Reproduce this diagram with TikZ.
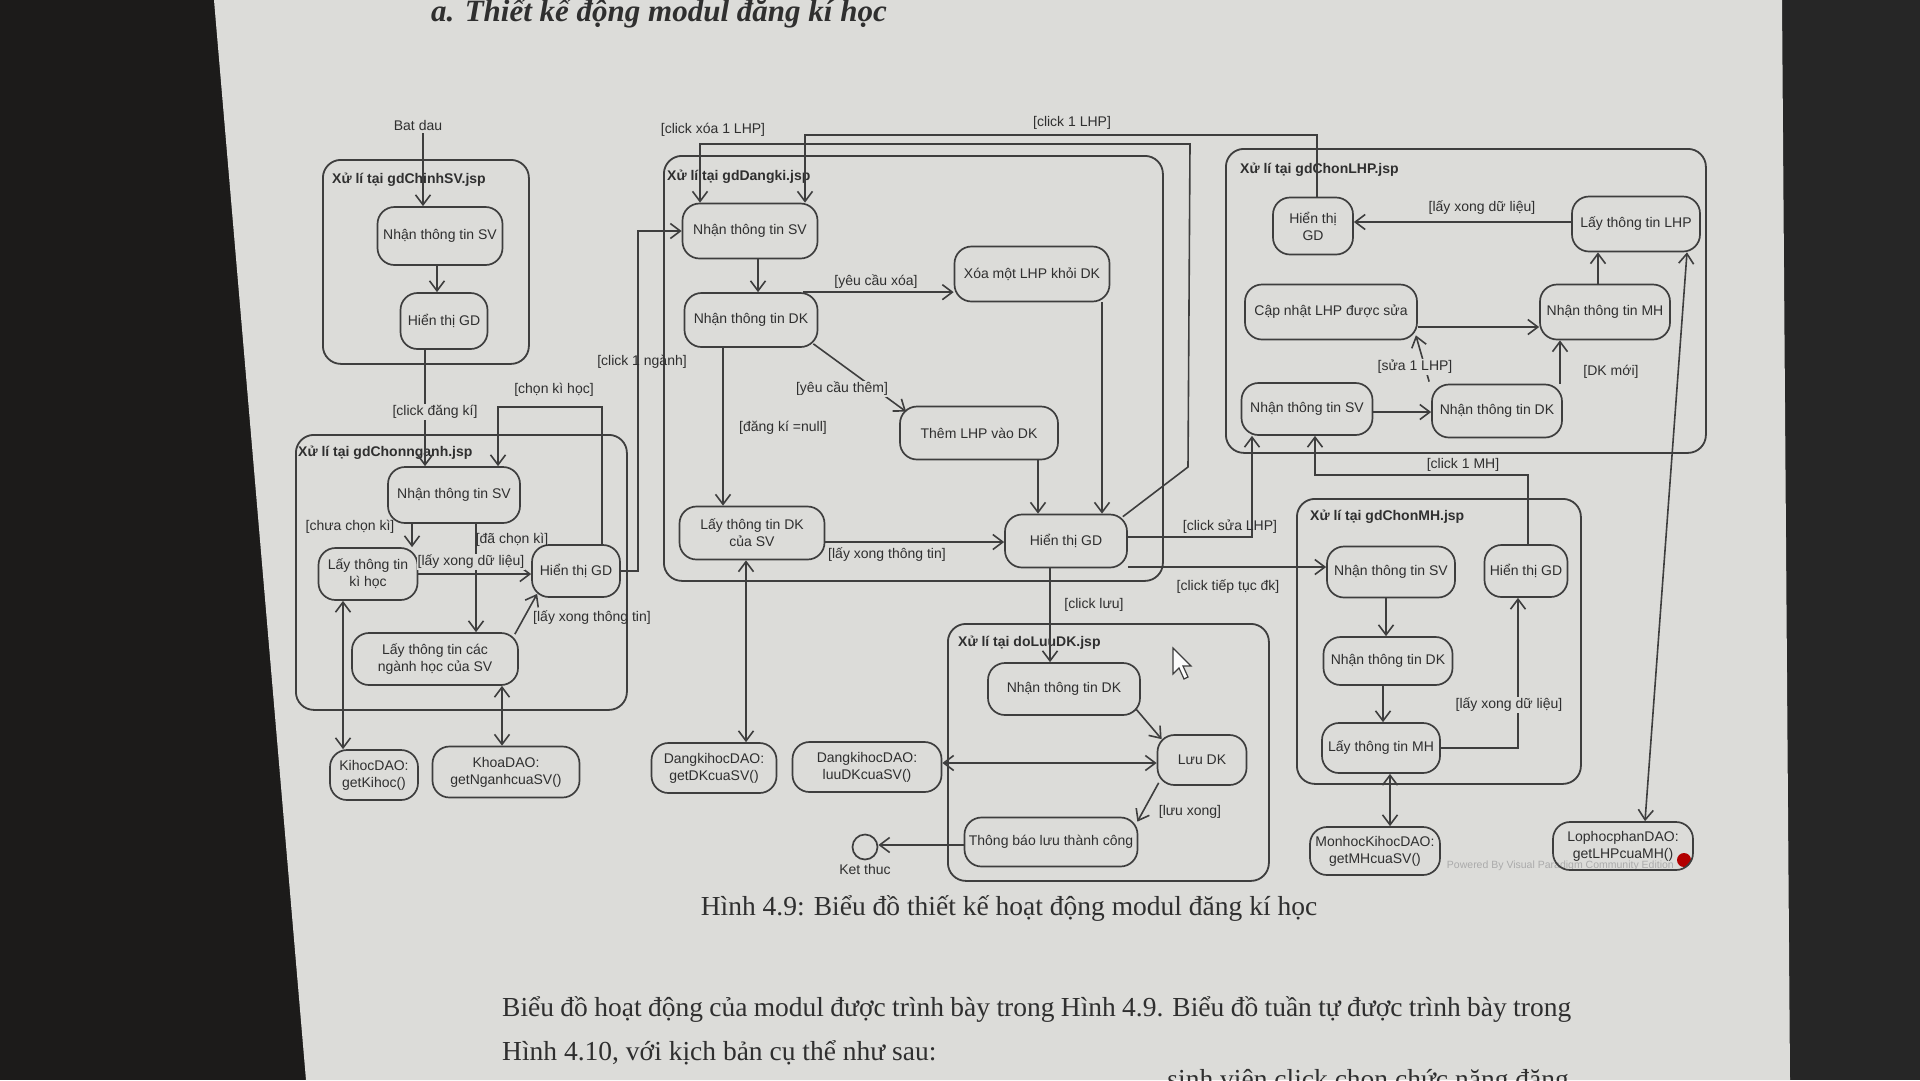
\documentclass[tikz,border=0pt]{standalone}
\usepackage{fontspec}
\setmainfont{Liberation Serif}
\newfontfamily\dgsans{Liberation Sans}
\usetikzlibrary{arrows.meta,calc}
\definecolor{pagec}{HTML}{DCDCD9}
\definecolor{darkc}{HTML}{1C1B1A}
\definecolor{darkr}{HTML}{262626}
\definecolor{linec}{HTML}{3E3E3E}
\definecolor{textc}{HTML}{2F2F2F}
\newcommand{\dgf}{\dgsans\fontsize{14}{17}\selectfont}
\newcommand{\dgb}{\dgsans\bfseries\fontsize{14}{17}\selectfont}
\begin{document}
\begin{tikzpicture}[x=1pt,y=-1pt,
  act/.style={draw=linec, line width=1.7pt, rounded corners=17pt, inner sep=0pt, align=center, font=\dgf, text=textc},
  cont/.style={draw=linec, line width=1.8pt, rounded corners=18pt, inner sep=0pt, anchor=north west},
  clab/.style={font=\dgb, text=textc, anchor=west, inner sep=0pt},
  glab/.style={font=\dgf, text=textc, inner sep=1pt},
  glabf/.style={glab, fill=pagec},
  flow/.style={draw=linec, line width=1.6pt, -{Straight Barb[length=10pt,width=15pt,line width=1.6pt]}},
  flowb/.style={draw=linec, line width=1.6pt, {Straight Barb[length=10pt,width=15pt,line width=1.6pt]}-{Straight Barb[length=10pt,width=15pt,line width=1.6pt]}},
  ptext/.style={anchor=base west, inner sep=0pt, font=\fontsize{27.5}{33}\selectfont, text=textc}
]
\useasboundingbox (0,0) rectangle (1920,1080);
\fill[darkc] (0,0) rectangle (1920,1080);
\fill[darkr] (1782,0) rectangle (1920,1080);
\fill[pagec] (214,0) -- (1782,0) -- (1790,1080) -- (306,1080) -- cycle;

% page texts
\node[anchor=base west, inner sep=0pt, font=\bfseries\itshape\fontsize{31}{37}\selectfont, text=textc] (title) at (431,21) {a. Thiết kế động modul đăng kí học};
\node[anchor=base, inner sep=0pt, font=\fontsize{27.5}{33}\selectfont, text=textc] (cap) at (1009,915) {Hình 4.9: Biểu đồ thiết kế hoạt động modul đăng kí học};
\node[ptext] (p1) at (502,1016) {\makebox[1069pt][s]{Biểu đồ hoạt động của modul được trình bày trong Hình 4.9. Biểu đồ tuần tự được trình bày trong}};
\node[ptext] (p2) at (502,1060) {Hình 4.10, với kịch bản cụ thể như sau:};
\node[ptext, anchor=base east] (p3) at (1569,1088) {sinh viên click chọn chức năng đăng};

% watermark
\node[anchor=base east, inner sep=0pt, font=\dgsans\fontsize{10.5}{12}\selectfont, text=black!33] (wm) at (1674,868) {Powered By Visual Paradigm Community Edition};
\fill[red!70!black] (1684,860) circle (7);

% containers
\node[cont, minimum width=206, minimum height=204] (CA) at (322,159) {};
\node[cont, minimum width=331, minimum height=275] (CB) at (295,434) {};
\node[cont, minimum width=499, minimum height=425] (CC) at (663,155) {};
\node[cont, minimum width=321, minimum height=257] (CD) at (947,623) {};
\node[cont, minimum width=480, minimum height=304] (CE) at (1225,148) {};
\node[cont, minimum width=284, minimum height=285] (CF) at (1296,498) {};
\node[clab] (la) at (332,180) {Xử lí tại gdChinhSV.jsp};
\node[clab] (lb) at (298,453) {Xử lí tại gdChonnganh.jsp};
\node[clab] (lc) at (667,177) {Xử lí tại gdDangki.jsp};
\node[clab] (ld) at (958,643) {Xử lí tại doLuuDK.jsp};
\node[clab] (le) at (1240,170) {Xử lí tại gdChonLHP.jsp};
\node[clab] (lf) at (1310,517) {Xử lí tại gdChonMH.jsp};

% start / end
\node[glab] (start) at (418,125) {Bat dau};
\coordinate (s0) at (423,133);
\node[draw=linec, line width=1.7pt, circle, minimum size=25pt, inner sep=0pt] (endc) at (865,847) {};
\node[glab] (endl) at (865,869) {Ket thuc};

% activities
\node[act, minimum width=125, minimum height=58] (A1) at (440,236) {Nhận thông tin SV};
\node[act, minimum width=87, minimum height=56] (A2) at (444,321) {Hiển thị GD};
\node[act, minimum width=132, minimum height=56] (B1) at (454,495) {Nhận thông tin SV};
\node[act, minimum width=99, minimum height=52] (B2) at (368,574) {Lấy thông tin\\kì học};
\node[act, minimum width=88, minimum height=52] (B3) at (576,571) {Hiển thị GD};
\node[act, minimum width=166, minimum height=52] (B4) at (435,659) {Lấy thông tin các\\ngành học của SV};
\node[act, minimum width=88, minimum height=50] (K1) at (374,775) {KihocDAO:\\getKihoc()};
\node[act, minimum width=147, minimum height=51] (K2) at (506,772) {KhoaDAO:\\getNganhcuaSV()};
\node[act, minimum width=135, minimum height=55] (C1) at (750,231) {Nhận thông tin SV};
\node[act, minimum width=133, minimum height=54] (C2) at (751,320) {Nhận thông tin DK};
\node[act, minimum width=155, minimum height=55] (C3) at (1032,274) {Xóa một LHP khỏi DK};
\node[act, minimum width=158, minimum height=53] (C4) at (979,433) {Thêm LHP vào DK};
\node[act, minimum width=145, minimum height=53] (C5) at (752,533) {Lấy thông tin DK\\của SV};
\node[act, minimum width=122, minimum height=53] (C6) at (1066,541) {Hiển thị GD};
\node[act, minimum width=125, minimum height=50] (DK1) at (714,768) {DangkihocDAO:\\getDKcuaSV()};
\node[act, minimum width=149, minimum height=50] (DK2) at (867,767) {DangkihocDAO:\\luuDKcuaSV()};
\node[act, minimum width=152, minimum height=52] (D1) at (1064,689) {Nhận thông tin DK};
\node[act, minimum width=89, minimum height=50] (D2) at (1202,760) {Lưu DK};
\node[act, minimum width=173, minimum height=49] (D3) at (1051,842) {Thông báo lưu thành công};
\node[act, minimum width=80, minimum height=57] (E1) at (1313,226) {Hiển thị\\GD};
\node[act, minimum width=128, minimum height=55] (E2) at (1636,224) {Lấy thông tin LHP};
\node[act, minimum width=172, minimum height=55] (E3) at (1331,312) {Cập nhật LHP được sửa};
\node[act, minimum width=130, minimum height=55] (E4) at (1605,312) {Nhận thông tin MH};
\node[act, minimum width=131, minimum height=52] (E5) at (1307,409) {Nhận thông tin SV};
\node[act, minimum width=130, minimum height=53] (E6) at (1497,411) {Nhận thông tin DK};
\node[act, minimum width=128, minimum height=51] (F1) at (1391,572) {Nhận thông tin SV};
\node[act, minimum width=83, minimum height=52] (F2) at (1526,571) {Hiển thị GD};
\node[act, minimum width=129, minimum height=48] (F3) at (1388,661) {Nhận thông tin DK};
\node[act, minimum width=118, minimum height=50] (F4) at (1381,748) {Lấy thông tin MH};
\node[act, minimum width=130, minimum height=48] (M1) at (1375,851) {MonhocKihocDAO:\\getMHcuaSV()};
\node[act, minimum width=140, minimum height=48] (L1) at (1623,846) {LophocphanDAO:\\getLHPcuaMH()};

% helper coordinates
\coordinate (a1s) at ([xshift=-3pt]A1.south);
\coordinate (a2s) at ([xshift=-19pt]A2.south);
\coordinate (b1a) at ([xshift=-42pt]B1.south);
\coordinate (b1b) at ([xshift=22pt]B1.south);
\coordinate (b3n) at ([xshift=26pt]B3.north);
\coordinate (b2s) at ([xshift=-25pt]B2.south);
\coordinate (b4s) at ([xshift=67pt]B4.south);
\coordinate (ck) at (498,407);
\coordinate (cn) at (638,231);
\coordinate (c1s) at ([xshift=8pt]C1.south);
\coordinate (c1n) at ([xshift=-50pt]C1.north);
\coordinate (c2a) at ([xshift=-15pt]C2.north east);
\coordinate (c2b) at ([xshift=-28pt]C2.south);
\coordinate (c5e) at ([yshift=-9pt]C5.east);
\coordinate (c3s) at ([xshift=70pt]C3.south);
\coordinate (c4s) at ([xshift=59pt]C4.south);
\coordinate (c5s) at ([xshift=-6pt]C5.south);
\coordinate (c6s) at ([xshift=-16pt]C6.south);
\coordinate (c6e) at ([yshift=-26pt]C6.east);
\coordinate (cx1) at (1188,467);
\coordinate (cx2) at (1190,144);
\coordinate (ct) at (805,135);
\coordinate (d2w) at ([yshift=-3pt]D2.west);
\coordinate (d3w) at ([yshift=-3pt]D3.west);
\coordinate (e2w) at ([yshift=2pt]E2.west);
\coordinate (e4n) at ([xshift=-7pt]E4.north);
\coordinate (e3e) at ([yshift=-15pt]E3.east);
\coordinate (e5e) at ([yshift=-3pt]E5.east);
\coordinate (e6n) at ([xshift=63pt]E6.north);
\coordinate (cm) at (1315,475);
\coordinate (f1s) at ([xshift=-5pt]F1.south);
\coordinate (f3s) at ([xshift=-5pt]F3.south);
\coordinate (f4s) at ([xshift=9pt]F4.south);

% connectors
\draw[flow] (s0) -- (s0 |- A1.north);
\draw[flow] (a1s) -- (a1s |- A2.north);
\draw[flow] (a2s) -- (a2s |- B1.north);
\draw[flow] (b1a) -- (b1a |- B2.north);
\draw[flow] (b1b) -- (b1b |- B4.north);
\draw[flow] (B2.east) -- (B2.east -| B3.west);
\draw[flow] ([shift={(-4pt,-2pt)}]B4.north east) -- ([shift={(6pt,4pt)}]B3.south west);
\draw[flow] (b3n) |- (ck) -- (ck |- B1.north);
\draw[flow] (B3.east) -| (cn) -- (C1.west);
\draw[flowb] (b2s) -- (b2s |- K1.north);
\draw[flowb] (b4s) -- (b4s |- K2.north);

\draw[flow] (c1s) -- (c1s |- C2.north);
\draw[flow] (c2a) -- (c2a -| C3.west);
\draw[flow] ([shift={(-5pt,4pt)}]C2.south east) -- ([shift={(7pt,-6pt)}]C4.north west);
\draw[flow] (c2b) -- (c2b |- C5.north);
\draw[flow] (c5e) -- (c5e -| C6.west);
\draw[flow] (c3s) -- (c3s |- C6.north);
\draw[flow] (c4s) -- (c4s |- C6.north);
\draw[flowb] (c5s) -- (c5s |- DK1.north);
\draw[flow] (c6s) -- (c6s |- D1.north);
\draw[flow] ([yshift=4pt]C6.east) -| ([xshift=-55pt]E5.south);
\draw[flow] (c6e) -- (c6e -| F1.west);
\draw[flow] ([shift={(-5pt,-3pt)}]C6.north east) -- (cx1) -- (cx2) -| (c1n);
\draw[flow] ([xshift=4pt]E1.north) |- (ct) -- (ct |- C1.north);

\draw[flow] ([shift={(-5pt,7pt)}]D1.south east) -- ([shift={(5pt,-5pt)}]D2.north west);
\draw[flow] ([shift={(2pt,3pt)}]D2.south west) -- ([shift={(-1pt,-5pt)}]D3.north east);
\draw[flowb] (d2w) -- (d2w -| DK2.east);
\draw[flow] (d3w) -- (d3w -| endc.east);

\draw[flow] (e2w) -- (e2w -| E1.east);
\draw[flow] (e4n) -- (e4n |- E2.south);
\draw[flow] (e3e) -- (e3e -| E4.west);
\draw[flow] (e5e) -- (e5e -| E6.west);
\draw[flow] ([shift={(-2pt,2pt)}]E6.north west) -- ([shift={(-2pt,5pt)}]E3.south east);
\draw[flow] (e6n) -- (e6n |- E4.south);
\draw[flow] ([xshift=2pt]F2.north) |- (cm) -- (cm |- E5.south);
\draw[flowb] ([xshift=51pt]E2.south) -- ([xshift=22pt]L1.north);

\draw[flow] (f1s) -- (f1s |- F3.north);
\draw[flow] (f3s) -- (f3s |- F4.north);
\draw[flow] (F4.east) -| ([xshift=-8pt]F2.south);
\draw[flowb] (f4s) -- (f4s |- M1.north);

% guard labels
\node[glabf] (g1) at (435,412) {[click đăng kí]};
\node[glab] (g2) at (350,527) {[chưa chọn kì]};
\node[glab] (g3) at (512,540) {[đã chọn kì]};
\node[glabf] (g4) at (471,562) {[lấy xong dữ liệu]};
\node[glab] (g5) at (592,618) {[lấy xong thông tin]};
\node[glab] (g6) at (554,390) {[chọn kì học]};
\node[glab] (g7) at (642,362) {[click 1 ngành]};
\node[glab] (g8) at (713,130) {[click xóa 1 LHP]};
\node[glab] (g9) at (1072,123) {[click 1 LHP]};
\node[glab] (g10) at (876,282) {[yêu cầu xóa]};
\node[glabf] (g11) at (842,389) {[yêu cầu thêm]};
\node[glab] (g12) at (783,428) {[đăng kí =null]};
\node[glab] (g13) at (887,555) {[lấy xong thông tin]};
\node[glab] (g14) at (1094,605) {[click lưu]};
\node[glab] (g15) at (1230,527) {[click sửa LHP]};
\node[glab] (g16) at (1228,587) {[click tiếp tục đk]};
\node[glab] (g17) at (1190,812) {[lưu xong]};
\node[glab] (g18) at (1482,208) {[lấy xong dữ liệu]};
\node[glabf] (g19) at (1415,367) {[sửa 1 LHP]};
\node[glab] (g20) at (1611,372) {[DK mới]};
\node[glab] (g21) at (1463,465) {[click 1 MH]};
\node[glabf] (g22) at (1509,705) {[lấy xong dữ liệu]};

% mouse cursor
\draw[linec, line width=1.2pt, fill=white!90!pagec] (1173,648) -- (1173,674) -- (1179,668) -- (1184,679) -- (1188,677) -- (1183,666) -- (1191,666) -- cycle;
\end{tikzpicture}
\end{document}
